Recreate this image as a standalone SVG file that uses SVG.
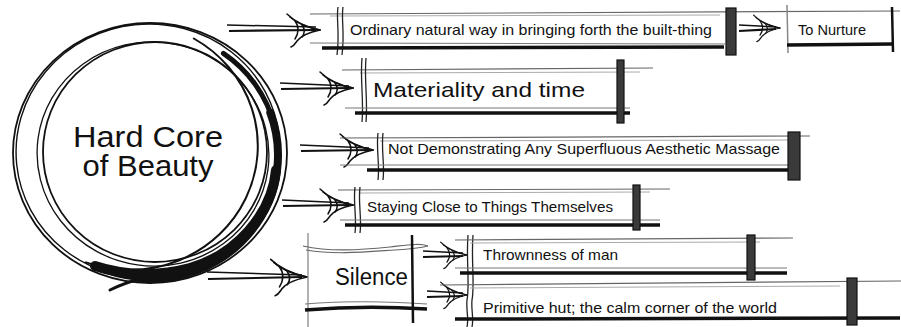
<svg xmlns="http://www.w3.org/2000/svg" width="901" height="327" viewBox="0 0 901 327">
<style>
.ring{fill:none;stroke:#111;stroke-linecap:round}
.top{fill:none;stroke:#666;stroke-width:1.2}
.top2{fill:none;stroke:#aaa;stroke-width:1}
.base{fill:none;stroke:#111;stroke-width:3.5}
.base2{fill:none;stroke:#777;stroke-width:1}
.dbl{fill:none;stroke:#222;stroke-width:1.3}
.bar{fill:#3a3a3a;stroke:#111;stroke-width:1.2}
.shaft{fill:none;stroke:#111;stroke-width:1.5}
.shaftb{fill:none;stroke:#111;stroke-width:2.2}
.ahead{fill:none;stroke:#111;stroke-width:1.5;stroke-linecap:round}
.lbl{font-family:"Liberation Sans",Arial,sans-serif;fill:#111}
</style>
<defs>
<g id="ah" class="ahead">
<path d="M-33,-16 C-26,-9 -14,-3 0,0"/>
<path d="M-30,-13 C-22,-6 -11,-2 0,0"/>
<path d="M0,0 C-10,2 -19,6 -23,11 C-25,14 -26,16 -29,17"/>
<path d="M-25,-9 C-21,-4 -21,3 -25,9"/>
<path d="M-18,-5 C-15,-1 -15,3 -18,7"/>
</g>
</defs>
<rect width="901" height="327" fill="#fff"/>

<g id="core">
<ellipse class="ring" cx="150" cy="153" rx="137" ry="130" stroke-width="1.8"/>
<ellipse class="ring" cx="148" cy="151" rx="132" ry="127" stroke-width="1.4" transform="rotate(-6 148 151)"/>
<ellipse class="ring" cx="155" cy="152" rx="112" ry="110" stroke-width="1.8"/>
<ellipse class="ring" cx="153" cy="154" rx="116" ry="112" stroke-width="1.3" transform="rotate(8 153 154)"/>
<path class="ring" stroke-width="2" d="M193.8,38.5 A128 124 0 0 1 86,262.4"/>
<path class="ring" stroke-width="5" d="M223.4,53.4 A128 124 0 0 1 106.2,271.5"/>
<path class="ring" stroke-width="8" d="M270.3,112.6 A128 124 0 0 1 138.8,278.5"/>
<path class="ring" stroke-width="10" d="M276,170 C272,215 235,255 190,268 C160,276 125,276 95,266"/>
<path class="ring" stroke-width="3" d="M140,279 C128,282 118,286 110,290"/>
<text class="lbl" font-size="30" text-anchor="middle"><tspan x="148" y="147" textLength="150" lengthAdjust="spacingAndGlyphs">Hard Core</tspan><tspan x="148" y="176" textLength="131" lengthAdjust="spacingAndGlyphs">of Beauty</tspan></text>
</g>

<g id="connectors">
<path class="shaft" d="M227,25 L316,27"/><path class="shaftb" d="M229,31 L316,30"/>
<use href="#ah" transform="translate(320,30)"/>
<path class="shaft" d="M739,25 L776,27"/><path class="shaftb" d="M739,31 L776,29"/>
<use href="#ah" transform="translate(780,28) scale(0.8)"/>
<path class="shaft" d="M280,83 L349,86"/><path class="shaftb" d="M281,89 L349,88"/>
<use href="#ah" transform="translate(353,88)"/>
<path class="shaft" d="M300,145 L369,148"/><path class="shaftb" d="M301,151 L369,150"/>
<use href="#ah" transform="translate(373,150)"/>
<path class="shaft" d="M282,200 L349,203"/><path class="shaftb" d="M283,206 L349,205"/>
<use href="#ah" transform="translate(353,205)"/>
<path class="shaft" d="M207,272 L302,275"/><path class="shaftb" d="M208,279 L302,277"/>
<use href="#ah" transform="translate(307,277) scale(1.1)"/>
<path class="shaft" d="M423,251 L463,253"/><path class="shaftb" d="M423,257 L463,256"/>
<use href="#ah" transform="translate(467,255) scale(0.8)"/>
<path class="shaft" d="M427,291 L463,293"/><path class="shaftb" d="M427,297 L463,296"/>
<use href="#ah" transform="translate(467,295) scale(0.8)"/>
</g>

<g id="ordinary">
<path class="top" d="M310,14 L900,11"/><path class="top2" d="M330,16 L720,15"/>
<path class="dbl" d="M338,7 C336,20 340,32 337,55"/><path class="dbl" d="M343,7 C341,20 345,32 342,55"/>
<path class="base2" d="M310,43 L725,44"/><path class="base" d="M322,48 L724,47"/>
<rect class="bar" x="726" y="8" width="10" height="47"/>
<text class="lbl" x="350" y="35" font-size="15" textLength="362" lengthAdjust="spacingAndGlyphs">Ordinary natural way in bringing forth the built-thing</text>
</g>

<g id="nurture">
<path fill="none" stroke="#888" stroke-width="1.5" d="M787,5 L788,53"/>
<path class="base" stroke-width="2.5" d="M787,45 L893,44"/>
<path fill="none" stroke="#111" stroke-width="2.5" d="M892,7 L893,52"/>
<text class="lbl" x="798" y="35" font-size="15" textLength="68" lengthAdjust="spacingAndGlyphs">To Nurture</text>
</g>

<g id="materiality">
<path class="top" d="M342,70 L653,68"/><path class="top2" d="M360,73 L640,72"/>
<path class="dbl" d="M362,58 C360,80 364,100 362,122"/><path class="dbl" d="M366,58 C364,80 368,100 366,122"/>
<path class="base2" d="M345,108 L630,108"/><path class="base" d="M355,113 L630,113"/>
<rect class="bar" x="617" y="60" width="7" height="63" fill="#1a1a1a"/>
<text class="lbl" x="373" y="97" font-size="21" textLength="212" lengthAdjust="spacingAndGlyphs">Materiality and time</text>
</g>

<g id="superfluous">
<path class="top" d="M340,138 L810,136"/><path class="top2" d="M380,141 L790,140"/>
<path class="dbl" d="M378,133 C376,150 380,165 378,180"/><path class="dbl" d="M383,133 C381,150 385,165 383,180"/>
<path class="base2" d="M340,165 L790,165"/><path class="base" d="M367,170 L790,170"/>
<rect class="bar" x="788" y="132" width="12" height="48"/>
<text class="lbl" x="388" y="154" font-size="15" textLength="392" lengthAdjust="spacingAndGlyphs">Not Demonstrating Any Superfluous Aesthetic Massage</text>
</g>

<g id="staying">
<path class="top" d="M338,190 L670,189"/><path class="top2" d="M360,193 L650,192"/>
<path class="dbl" d="M355,187 C353,203 357,218 355,233"/><path class="dbl" d="M360,187 C358,203 362,218 360,233"/>
<path class="base2" d="M340,220 L660,220"/><path class="base" d="M345,225 L660,225"/>
<rect class="bar" x="633" y="185" width="7" height="45"/>
<text class="lbl" x="367" y="212" font-size="15" textLength="246" lengthAdjust="spacingAndGlyphs">Staying Close to Things Themselves</text>
</g>

<g id="silence">
<path fill="none" stroke="#888" stroke-width="1.3" d="M308,233 L308,327"/>
<path class="top" stroke="#333" d="M303,246 C330,252 360,250 390,247 C408,245 420,243 428,246"/>
<path class="top" stroke="#555" d="M306,250 C335,255 365,252 395,250 C410,249 420,248 428,246"/>
<path class="base2" d="M305,304 C340,301 380,301 427,304"/>
<path class="base" stroke-width="4" d="M305,310 C340,307 380,306 427,309"/>
<path fill="none" stroke="#111" stroke-width="2.5" d="M412,235 L413,323"/>
<text class="lbl" x="335" y="285" font-size="23" textLength="73" lengthAdjust="spacingAndGlyphs">Silence</text>
</g>

<g id="thrownness">
<path class="dbl" d="M468,235 C466,260 470,285 467,300 C466,310 469,318 467,327"/>
<path class="dbl" d="M473,235 C471,260 475,285 472,300 C471,310 474,318 472,327"/>
<path class="top" d="M455,240 L793,238"/><path class="top2" d="M470,243 L760,242"/>
<path class="base2" d="M455,268 L787,268"/><path class="base" d="M460,273 L787,273"/>
<rect class="bar" x="747" y="235" width="8" height="45" fill="#666"/>
<text class="lbl" x="483" y="260" font-size="14.5" textLength="135" lengthAdjust="spacingAndGlyphs">Thrownness of man</text>
</g>

<g id="primitive">
<path class="top" d="M440,285 L901,281"/><path class="top2" d="M470,288 L840,286"/>
<path class="base" d="M455,319 L900,318"/>
<rect class="bar" x="847" y="278" width="10" height="47" fill="#666"/>
<text class="lbl" x="483" y="313" font-size="14.5" textLength="294" lengthAdjust="spacingAndGlyphs">Primitive hut; the calm corner of the world</text>
</g>
</svg>
